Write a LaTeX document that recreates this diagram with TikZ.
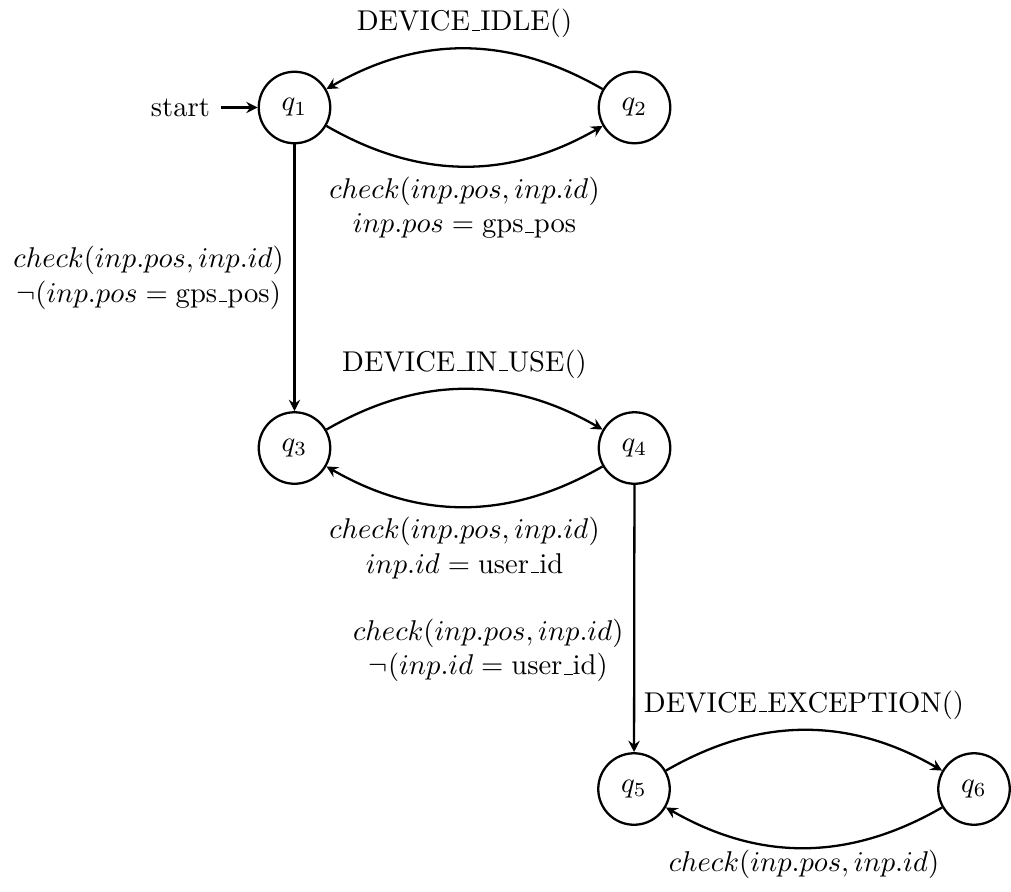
\documentclass[tikz,border=0pt]{standalone}
\usetikzlibrary{arrows.meta}
\newcommand\us{\leavevmode\kern.06em\vbox{\hrule width.3em}}
\begin{document}
\begin{tikzpicture}[x=0.34965pt,y=-0.34965pt,
  >={Stealth[length=4pt,width=4pt,inset=1.4pt]}, thick,
  statenode/.style={circle,draw,minimum size=2.5em,inner sep=0pt},
  every edge/.style={draw,->}]
\useasboundingbox (0,0) rectangle (1011,891);
\node[statenode] (q1) at (294.5,107.5) {$q_1$};
\node[statenode] (q2) at (634.5,107.5) {$q_2$};
\node[statenode] (q3) at (294.5,448) {$q_3$};
\node[statenode] (q4) at (634.5,448) {$q_4$};
\node[statenode] (q5) at (634,789) {$q_5$};
\node[statenode] (q6) at (974,789) {$q_6$};
\node[anchor=east] (start) at ([xshift=-3ex]q1.west) {start};
\draw[->] (start) -- (q1);
\path (q1) edge[bend right] node[below,align=center] {$check(inp.pos, inp.id)$\\ $inp.pos = \mbox{gps\us pos}$} (q2)
      (q2) edge[bend right] node[above] {DEVICE\us IDLE()} (q1)
      (q1) edge node[left,align=center] {$check(inp.pos, inp.id)$\\ $\neg(inp.pos = \mbox{gps\us pos})$} (q3)
      (q3) edge[bend left] node[above] {DEVICE\us IN\us USE()} (q4)
      (q4) edge[bend left] node[below,align=center] {$check(inp.pos, inp.id)$\\ $inp.id = \mbox{user\us id}$} (q3)
      (q4) edge node[left,align=center,pos=0.62] {$check(inp.pos, inp.id)$\\ $\neg(inp.id = \mbox{user\us id})$} (q5)
      (q5) edge[bend left] node[above] {DEVICE\us EXCEPTION()} (q6)
      (q6) edge[bend left] node[below,inner sep=0.5pt] {$check(inp.pos, inp.id)$} (q5);
\end{tikzpicture}
\end{document}
